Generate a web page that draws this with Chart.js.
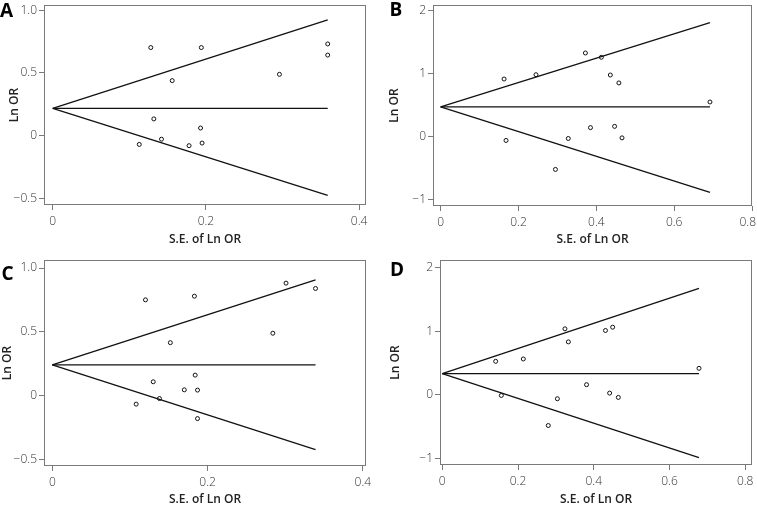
<!DOCTYPE html>
<html>
<head>
<meta charset="utf-8">
<title>Funnel plots</title>
<script src="https://cdn.jsdelivr.net/npm/chart.js@4.4.1/dist/chart.umd.min.js"></script>
<style>
  html, body { margin: 0; padding: 0; background: #fff; overflow: hidden; }
  #wrap { position: relative; width: 757px; height: 509px; }
  canvas { position: absolute; }
</style>
</head>
<body>
<div id="wrap">
  <canvas id="panelA" width="378" height="255" style="left:0;top:0"></canvas>
  <canvas id="panelB" width="379" height="255" style="left:378px;top:0"></canvas>
  <canvas id="panelC" width="378" height="254" style="left:0;top:255px"></canvas>
  <canvas id="panelD" width="379" height="254" style="left:378px;top:255px"></canvas>
</div>
<script>
// ---- Panel A ----
const aSE   = [0.128, 0.194, 0.359, 0.359, 0.296, 0.156, 0.132, 0.193, 0.142, 0.113, 0.178, 0.195];
const aLnOR = [0.703, 0.703, 0.732, 0.643, 0.489, 0.439, 0.133, 0.060, -0.029, -0.071, -0.081, -0.060];
const aEdgeSE = [0, 0.359];
const aMid    = [0.217, 0.217];
const aUpper  = [0.217, 0.925];
const aLower  = [0.217, -0.478];

// ---- Panel B ----
const bSE   = [0.163, 0.245, 0.372, 0.413, 0.436, 0.458, 0.692, 0.168, 0.328, 0.385, 0.447, 0.466, 0.295];
const bLnOR = [0.911, 0.979, 1.323, 1.255, 0.974, 0.849, 0.547, -0.062, -0.031, 0.141, 0.161, -0.021, -0.521];
const bEdgeSE = [0, 0.692];
const bMid    = [0.469, 0.469];
const bUpper  = [0.469, 1.802];
const bLower  = [0.469, -0.885];

// ---- Panel C ----
const cSE   = [0.120, 0.183, 0.301, 0.339, 0.284, 0.152, 0.184, 0.130, 0.170, 0.187, 0.138, 0.108, 0.187];
const cLnOR = [0.751, 0.780, 0.882, 0.840, 0.490, 0.416, 0.162, 0.110, 0.047, 0.045, -0.021, -0.065, -0.178];
const cEdgeSE = [0, 0.339];
const cMid    = [0.243, 0.243];
const cUpper  = [0.243, 0.908];
const cLower  = [0.243, -0.421];

// ---- Panel D ----
const dSE   = [0.141, 0.214, 0.324, 0.333, 0.431, 0.450, 0.678, 0.156, 0.304, 0.381, 0.442, 0.465, 0.280];
const dLnOR = [0.526, 0.563, 1.037, 0.832, 1.011, 1.063, 0.416, -0.011, -0.063, 0.158, 0.026, -0.042, -0.484];
const dEdgeSE = [0, 0.678];
const dMid    = [0.332, 0.332];
const dUpper  = [0.332, 1.674];
const dLower  = [0.332, -0.989];

const xTitle = 'S.E. of Ln OR';
const yTitle = 'Ln OR';

const tickFont  = { family: "'Open Sans', 'Noto Sans', sans-serif", size: 12, weight: 300 };
const titleFont = { family: "'Open Sans', 'Noto Sans', sans-serif", size: 12, weight: 600 };

const fmt = dec => v => Math.abs(v) < 1e-9 ? '0' : (v < 0 ? '\u2212' : '') + Math.abs(v).toFixed(dec);

// frame round the plot area + the panel letter
const framePlugin = {
  id: 'frame',
  afterDraw(chart, args, opts) {
    const { ctx, chartArea: a } = chart;
    ctx.save();
    ctx.strokeStyle = '#7a7a7a';
    ctx.lineWidth = 1;
    const l = Math.round(a.left) + 0.5, t = Math.round(a.top) + 0.5;
    const r = Math.round(a.right) - 0.5, b = Math.round(a.bottom) - 0.5;
    ctx.strokeRect(l, t, r - l, b - t);
    ctx.fillStyle = '#000';
    ctx.font = "bold 19px 'Open Sans', 'Noto Sans', sans-serif";
    ctx.textBaseline = 'alphabetic';
    ctx.fillText(opts.letter, opts.lx, opts.ly);

    // last x label pulled inside the canvas when it sits on the right edge
    if (opts.edgeLabel) {
      const xs = chart.scales.x;
      const last = xs.ticks[xs.ticks.length - 1];
      ctx.font = "300 12px 'Open Sans', 'Noto Sans', sans-serif";
      ctx.fillStyle = '#333';
      ctx.textAlign = 'right';
      ctx.textBaseline = 'middle';
      ctx.fillText(fmt(1)(last.value), chart.width - 1, xs.top + 5 + 4 + 7.2);
    }
    ctx.restore();
  }
};

function funnel(id, p) {
  const canvas = document.getElementById(id);
  const W = canvas.width, H = canvas.height;
  const line = ys => ({
    data: p.edge.map((x, i) => ({ x, y: ys[i] })),
    showLine: true,
    borderColor: '#111',
    borderWidth: 1.3,
    pointRadius: 0,
    fill: false
  });
  const xfmt = fmt(1);
  return new Chart(canvas, {
    type: 'scatter',
    data: {
      datasets: [
        line(p.mid), line(p.upper), line(p.lower),
        {
          data: p.se.map((x, i) => ({ x, y: p.lnor[i] })),
          pointStyle: 'circle',
          pointRadius: 2,
          borderWidth: 1,
          borderColor: '#111',
          backgroundColor: '#fff'
        }
      ]
    },
    options: {
      responsive: false,
      animation: false,
      layout: { padding: { left: 0, top: p.box.t, right: W - p.box.r, bottom: 0 } },
      plugins: {
        legend: { display: false },
        tooltip: { enabled: false },
        frame: { letter: p.letter, lx: p.lx, ly: p.ly, edgeLabel: !!p.edgeLabel }
      },
      scales: {
        x: {
          type: 'linear',
          min: p.xr[0], max: p.xr[1],
          grid: { drawOnChartArea: false, drawTicks: true, tickLength: 5, color: '#7a7a7a' },
          border: { display: false },
          ticks: {
            stepSize: 0.2, includeBounds: false, padding: 4, color: '#333', font: tickFont,
            callback: (v, i, ticks) => (p.edgeLabel && i === ticks.length - 1) ? '' : xfmt(v)
          },
          title: { display: true, text: xTitle, color: '#222', font: titleFont, padding: { top: 0, bottom: p.xtPad } },
          afterFit: s => { s.height = H - p.box.b; s.paddingLeft = 0; s.paddingRight = 0; }
        },
        y: {
          type: 'linear',
          min: p.yr[0], max: p.yr[1],
          grid: { drawOnChartArea: false, drawTicks: true, tickLength: 5, color: '#7a7a7a' },
          border: { display: false },
          ticks: { stepSize: p.ystep, includeBounds: false, padding: 2, color: '#333', font: tickFont, callback: fmt(p.ydec) },
          title: { display: true, text: yTitle, color: '#222', font: titleFont, padding: { top: p.ytPad, bottom: 0 } },
          afterFit: s => { s.width = p.box.l; s.paddingTop = 0; s.paddingBottom = 0; }
        }
      }
    },
    plugins: [framePlugin]
  });
}

funnel('panelA', {
  se: aSE, lnor: aLnOR, edge: aEdgeSE, mid: aMid, upper: aUpper, lower: aLower,
  xr: [-0.0114, 0.409], yr: [-0.555, 1.043], ystep: 0.5, ydec: 1,
  box: { l: 44, t: 0, r: 366, b: 205 }, xtPad: 8, ytPad: 7.5,
  letter: 'A', lx: 0, ly: 17
});
funnel('panelB', {
  se: bSE, lnor: bLnOR, edge: bEdgeSE, mid: bMid, upper: bUpper, lower: bLower,
  xr: [-0.0196, 0.8], yr: [-1.1, 2.083], ystep: 1, ydec: 0,
  box: { l: 55, t: 1, r: 377, b: 206 }, xtPad: 8, ytPad: 9,
  letter: 'B', lx: 11.5, ly: 16, edgeLabel: true
});
funnel('panelC', {
  se: cSE, lnor: cLnOR, edge: cEdgeSE, mid: cMid, upper: cUpper, lower: cLower,
  xr: [-0.0107, 0.404], yr: [-0.549, 1.063], ystep: 0.5, ydec: 1,
  box: { l: 44, t: 5, r: 366, b: 211 }, xtPad: 2, ytPad: 0,
  letter: 'C', lx: 1.5, ly: 25
});
funnel('panelD', {
  se: dSE, lnor: dLnOR, edge: dEdgeSE, mid: dMid, upper: dUpper, lower: dLower,
  xr: [-0.006, 0.818], yr: [-1.105, 2.12], ystep: 1, ydec: 0,
  box: { l: 62, t: 5, r: 377, b: 210 }, xtPad: 2, ytPad: 10,
  letter: 'D', lx: 12, ly: 20.5
});
</script>
</body>
</html>
